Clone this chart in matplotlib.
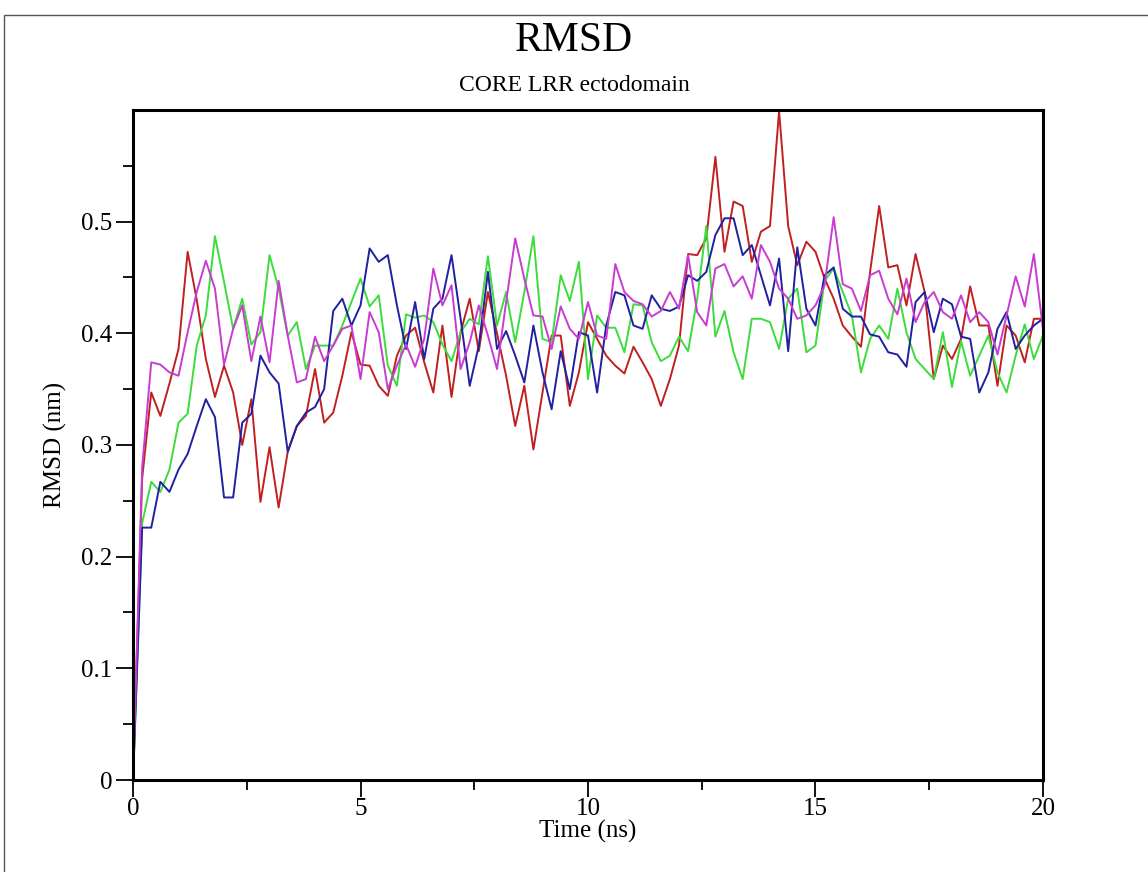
import numpy as np
import matplotlib.pyplot as plt
from matplotlib.patches import Rectangle

# time axis (ns), one frame every 0.2 ns
time_ns = np.round(np.arange(0, 20.01, 0.2), 1)

rmsd_red = [
    0.0, 0.27, 0.347, 0.326, 0.355, 0.386, 0.473, 0.43, 0.377, 0.343,
    0.371, 0.347, 0.30, 0.341, 0.249, 0.298, 0.244, 0.294, 0.317, 0.326,
    0.368, 0.320, 0.329, 0.362, 0.401, 0.372, 0.371, 0.353, 0.344, 0.380,
    0.398, 0.405, 0.374, 0.347, 0.407, 0.343, 0.401, 0.431, 0.384, 0.437,
    0.40, 0.362, 0.317, 0.353, 0.296, 0.347, 0.398, 0.398, 0.335, 0.365,
    0.41, 0.395, 0.380, 0.371, 0.364, 0.388, 0.374, 0.359, 0.335, 0.359,
    0.389, 0.471, 0.470, 0.485, 0.558, 0.473, 0.518, 0.514, 0.464, 0.491,
    0.496, 0.599, 0.496, 0.461, 0.482, 0.473, 0.449, 0.431, 0.407, 0.397,
    0.388, 0.455, 0.514, 0.459, 0.461, 0.425, 0.471, 0.437, 0.359, 0.389,
    0.377, 0.395, 0.442, 0.407, 0.407, 0.353, 0.407, 0.398, 0.374, 0.413,
    0.413,
]

rmsd_green = [
    0.0, 0.23, 0.267, 0.258, 0.278, 0.32, 0.328, 0.389, 0.416, 0.487,
    0.446, 0.404, 0.431, 0.390, 0.401, 0.470, 0.44, 0.398, 0.410, 0.368,
    0.389, 0.389, 0.389, 0.407, 0.428, 0.449, 0.424, 0.434, 0.371, 0.353,
    0.417, 0.414, 0.416, 0.410, 0.390, 0.375, 0.401, 0.413, 0.408, 0.469,
    0.407, 0.437, 0.392, 0.437, 0.487, 0.395, 0.392, 0.452, 0.429, 0.464,
    0.359, 0.416, 0.405, 0.405, 0.383, 0.426, 0.425, 0.392, 0.375, 0.380,
    0.397, 0.384, 0.431, 0.496, 0.397, 0.420, 0.383, 0.359, 0.413, 0.413,
    0.410, 0.386, 0.431, 0.440, 0.383, 0.389, 0.447, 0.458, 0.437, 0.416,
    0.365, 0.395, 0.407, 0.395, 0.440, 0.401, 0.377, 0.368, 0.359, 0.401,
    0.352, 0.393, 0.362, 0.380, 0.398, 0.365, 0.347, 0.380, 0.408, 0.377,
    0.398,
]

rmsd_blue = [
    0.0, 0.226, 0.226, 0.267, 0.258, 0.278, 0.292, 0.317, 0.341, 0.325,
    0.253, 0.253, 0.320, 0.328, 0.380, 0.365, 0.355, 0.294, 0.317, 0.329,
    0.334, 0.350, 0.420, 0.431, 0.407, 0.425, 0.476, 0.464, 0.470, 0.425,
    0.386, 0.428, 0.377, 0.422, 0.431, 0.470, 0.413, 0.353, 0.389, 0.455,
    0.386, 0.402, 0.380, 0.356, 0.407, 0.365, 0.332, 0.384, 0.350, 0.401,
    0.398, 0.347, 0.407, 0.437, 0.434, 0.407, 0.404, 0.434, 0.422, 0.420,
    0.424, 0.452, 0.447, 0.455, 0.488, 0.503, 0.503, 0.470, 0.479, 0.452,
    0.425, 0.467, 0.384, 0.477, 0.422, 0.407, 0.452, 0.459, 0.422, 0.415,
    0.415, 0.399, 0.397, 0.383, 0.381, 0.370, 0.428, 0.437, 0.401, 0.431,
    0.426, 0.397, 0.395, 0.347, 0.365, 0.404, 0.419, 0.386, 0.398, 0.407,
    0.413,
]

rmsd_magenta = [
    0.0, 0.28, 0.374, 0.372, 0.365, 0.362, 0.401, 0.437, 0.465, 0.440,
    0.372, 0.404, 0.425, 0.375, 0.415, 0.374, 0.447, 0.398, 0.356, 0.359,
    0.397, 0.375, 0.389, 0.404, 0.407, 0.359, 0.419, 0.401, 0.350, 0.371,
    0.390, 0.370, 0.395, 0.458, 0.425, 0.443, 0.368, 0.392, 0.425, 0.398,
    0.368, 0.428, 0.485, 0.449, 0.416, 0.415, 0.386, 0.424, 0.404, 0.395,
    0.428, 0.398, 0.395, 0.462, 0.437, 0.429, 0.426, 0.415, 0.420, 0.437,
    0.422, 0.470, 0.419, 0.407, 0.458, 0.462, 0.442, 0.451, 0.431, 0.479,
    0.464, 0.440, 0.431, 0.413, 0.416, 0.425, 0.443, 0.504, 0.444, 0.440,
    0.420, 0.452, 0.456, 0.431, 0.417, 0.449, 0.410, 0.428, 0.437, 0.419,
    0.413, 0.434, 0.410, 0.419, 0.410, 0.381, 0.416, 0.451, 0.424, 0.471,
    0.404,
]

series = [
    (rmsd_red, '#c02020'),
    (rmsd_green, '#3cdc3c'),
    (rmsd_blue, '#2020a0'),
    (rmsd_magenta, '#c83cd2'),
]

plt.rcParams['font.family'] = ['Liberation Serif', 'DejaVu Serif']

fig = plt.figure(figsize=(11.48, 8.72), dpi=100)
ax = fig.add_axes((0.1159, 0.1055, 0.7926, 0.7684))

for values, color in series:
    assert len(values) == len(time_ns)
    ax.plot(time_ns, values, color=color, linewidth=1.4)

ax.set_xlim(0, 20)
ax.set_ylim(0, 0.6)

ax.set_xticks([0, 5, 10, 15, 20])
ax.set_xticks([2.5, 7.5, 12.5, 17.5], minor=True)
ax.set_yticks([0, 0.1, 0.2, 0.3, 0.4, 0.5])
ax.set_yticklabels(['0', '0.1', '0.2', '0.3', '0.4', '0.5'])
ax.set_yticks([0.05, 0.15, 0.25, 0.35, 0.45, 0.55], minor=True)

ax.tick_params(which='both', direction='out', labelsize=18, width=1.3, top=False, right=False)
ax.tick_params(which='major', length=12)
ax.tick_params(axis='x', which='major', pad=1)
ax.tick_params(axis='y', which='major', pad=3)
ax.tick_params(which='minor', length=7)
for sp in ax.spines.values():
    sp.set_linewidth(2.2)

ax.set_xlabel('Time (ns)', fontsize=18, labelpad=0)
ax.set_ylabel('RMSD (nm)', fontsize=18, labelpad=10)

fig.text(0.5, 0.953, 'RMSD', ha='center', va='center', fontsize=30)
fig.text(0.5, 0.902, 'CORE LRR ectodomain', ha='center', va='center', fontsize=17)

# thin frame around the whole picture
fig.patches.append(Rectangle((4 / 1148, -0.1), 1.2, 1.1 - 15 / 872,
                             transform=fig.transFigure, fill=False,
                             edgecolor='#555555', linewidth=1.0))

fig.savefig('out.png', dpi=100)
